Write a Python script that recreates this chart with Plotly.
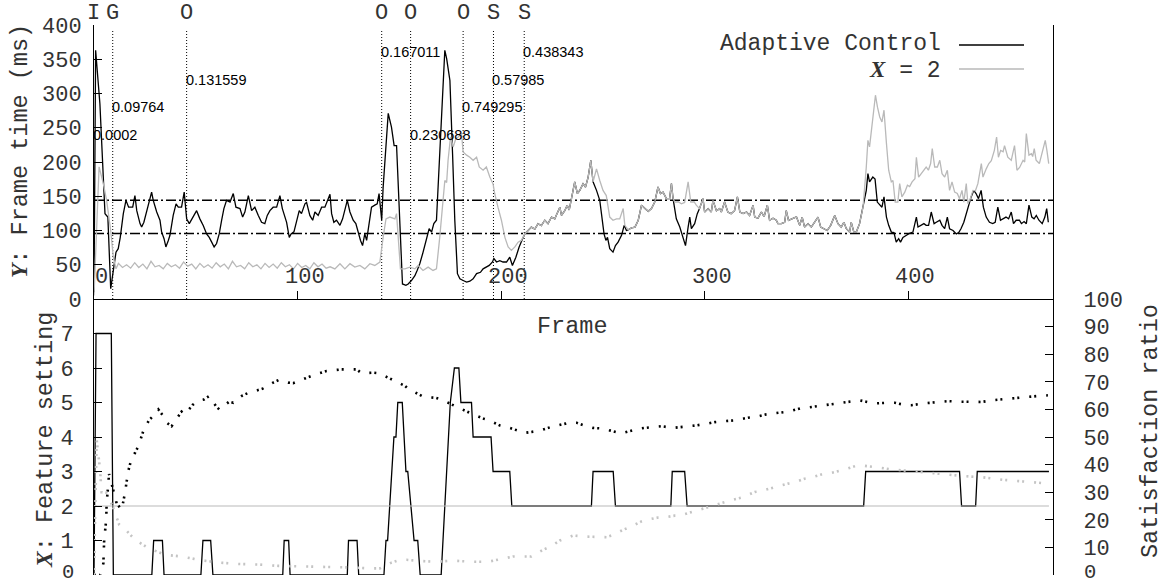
import plotly.graph_objects as go

W, H = 1171, 584
MONO = "Liberation Mono, Courier New, monospace"
SANS = "Liberation Sans, Arial, sans-serif"
INK = "#333333"
GREY = "#b9b9b9"
DOTGREY = "#c4c4c4"

# ---------------- data ----------------
EVENT_FRAMES = [0, 9.2, 45.5, 141.3, 155.5, 181.3, 196.2, 211.3]
EVENT_CODES = ["I", "G", "O", "O", "O", "O", "S", "S"]
EVENT_VALUES = ["0.0002", "0.09764", "0.131559", "0.167011",
                "0.230688", "0.749295", "0.57985", "0.438343"]
EVENT_LABEL_MS = [240, 280, 320, 360, 240, 280, 320, 360]
EVENT_LINE_TOP_MS = 392

TARGET_HIGH_MS = 144
TARGET_LOW_MS = 95.5
FIXED_SETTING = 2
FRAME_MAX = 471

FRAME_TICKS = [0, 100, 200, 300, 400]
MS_TICKS = [0, 50, 100, 150, 200, 250, 300, 350, 400]
SETTING_TICKS = [0, 1, 2, 3, 4, 5, 6, 7]
RATIO_TICKS = [0, 10, 20, 30, 40, 50, 60, 70, 80, 90, 100]

# Frame time (ms) – Adaptive Control, segments where it differs from X = 2
ADAPT_EARLY = [(0, 10), (0.8, 363), (2.9, 285), (3.8, 232), (4.9, 173), (5.4, 124.6), (6.8, 119.6),
               (8.2, 15), (9.5, 41.7), (10.8, 68.4), (11.9, 73.4), (12.9, 90), (14.4, 124.6),
               (15.7, 144), (17, 134), (19, 134), (20.1, 151), (21, 129), (22.6, 110), (23.4, 105),
               (24.5, 112), (25.9, 127), (27.5, 146.5), (28.3, 156), (29.1, 144), (30.8, 127),
               (32.4, 115), (33.2, 98), (34.4, 88), (35.3, 76), (36.5, 85.5), (37.3, 93), (38.9, 122),
               (40.3, 139), (41.4, 134), (43, 134), (44.3, 156), (45.5, 117), (46.8, 110), (48, 117),
               (49.6, 124.6), (50.4, 129), (52, 117), (53.7, 107), (55.3, 95), (56.6, 90), (57.8, 83),
               (59, 76), (60.2, 81), (61.5, 95), (62.7, 115), (63.8, 132), (65.1, 144), (66.8, 141.5),
               (68.4, 154), (69.7, 134), (71.7, 132), (73, 119.6), (74.1, 127), (75.8, 151), (77.4, 129),
               (79, 134), (80.7, 122), (82.3, 112), (83.9, 110), (85.1, 122), (86.4, 129), (88, 134),
               (89.7, 134), (91.3, 151), (92.5, 132), (94.6, 112), (95.9, 90), (96.8, 95), (98.2, 98),
               (99.5, 115), (100.8, 129), (101.9, 124.6), (103.6, 139), (104.4, 141), (106, 122),
               (107.4, 115), (108.5, 127), (110.1, 122), (111.8, 134), (113.4, 134), (114.5, 141.5),
               (115.9, 153), (116.7, 124.6), (117.8, 112), (119.1, 115), (120.8, 107.5), (122.1, 117),
               (123.2, 129), (124.4, 144), (125.7, 127), (127.3, 115), (128.6, 110), (129.8, 95),
               (130.9, 85.5), (131.9, 78), (133, 95), (133.9, 85.5), (135.2, 115), (136.3, 134),
               (137.9, 137), (139.1, 139), (140, 154), (140.3, 141.5), (141.3, 115), (142, 163),
               (143.4, 222), (144.5, 271), (146.1, 251), (147.4, 224), (148.6, 224), (149.4, 163),
               (150.5, 90), (151.5, 22), (153.2, 20), (154.3, 22), (155.9, 27), (157.6, 34),
               (158.7, 41.7), (160, 51.5), (161.4, 66), (163, 83), (164.6, 102.6), (165.8, 97.7),
               (166.9, 110), (168.2, 115), (169, 163), (170.3, 261), (171.5, 334), (172.3, 363),
               (173.2, 351), (174.8, 319), (176.1, 212), (177.2, 115), (178.5, 37), (179.7, 29.5),
               (181.3, 27), (183, 24.6), (184.6, 26), (186.2, 29.5), (187.9, 37), (189.8, 39),
               (191.1, 44), (192.7, 46.5), (194.1, 49), (195.7, 54), (196.4, 59), (197.7, 54),
               (199.3, 56), (200.9, 54), (202.6, 54), (204.2, 61), (205.5, 49), (207.2, 61),
               (208.8, 76), (210.5, 88), (211.6, 95)]
ADAPT_DIP1 = [(246.8, 158.6), (248.4, 144), (249.5, 119.6), (250.5, 95), (251.4, 85.5), (252.2, 90),
              (253.3, 73.4), (254.9, 68.4), (256.1, 78), (257.4, 83), (259.1, 93), (260.4, 107.5),
              (261.5, 100), (262.4, 101)]
ADAPT_DIP2 = [(286, 117), (287.7, 105), (289.8, 85.5), (290.5, 78), (291.8, 105), (292.6, 119.6),
              (293.4, 102.6), (295, 110), (296.3, 124.6), (297.4, 132)]
ADAPT_LATE = [(379.3, 158.6), (380.1, 183), (380.9, 171), (382.5, 178), (383.6, 175), (384.7, 141.5),
              (385.9, 137), (387, 134), (388, 149), (389.2, 119.6), (390.3, 107.5), (391.6, 97.7),
              (392.9, 97), (394, 83), (395.2, 88), (396.1, 83), (397.3, 90), (398.9, 93), (400.6, 96),
              (402.2, 97.7), (403.9, 119.6), (404.7, 105), (406.3, 107.5), (407.6, 110), (408.7, 107.5),
              (409.9, 107.5), (411.2, 127), (412.6, 110), (413.7, 112), (415.4, 115), (416.5, 107.5),
              (417.8, 102.6), (419.1, 119.6), (420.2, 102.6), (421.9, 100), (423.5, 95), (424.7, 97),
              (425.8, 102.6), (427.2, 112), (428.4, 124.6), (429.5, 134), (430.8, 149), (432.1, 158.6),
              (433.2, 154), (434.4, 146.5), (435.7, 158.6), (436.8, 134), (438.2, 119.6), (439.8, 112),
              (441.4, 110), (442.6, 112), (443.9, 134), (445.2, 115), (446.5, 117), (447.9, 119.6),
              (449.2, 117), (450.5, 127), (451.6, 110), (452.9, 115), (454.5, 115), (455.5, 110),
              (456.8, 113), (457.9, 110), (459.2, 137), (460.6, 119.6), (461.7, 117), (462.8, 122),
              (464.1, 115), (465.7, 110), (467, 119.6), (467.9, 132), (468.7, 112)]

# Frame time (ms) – X = 2, segments where it differs from Adaptive Control
FIXED_EARLY = [(0, 5), (2.5, 193), (4.6, 168), (6.2, 144), (8.2, 100), (9.5, 61), (10.8, 44), (12, 52),
               (14, 46), (16, 50), (18, 45), (20, 53), (22, 46), (24, 51), (26, 44), (28, 55), (30, 47),
               (32, 49), (34, 44), (36, 52), (38, 47), (40, 50), (42, 45), (44, 54), (46, 48), (48, 51),
               (50, 44), (52, 52), (54, 46), (56, 50), (58, 45), (60, 53), (62, 47), (64, 51), (66, 44),
               (68, 55), (70, 47), (72, 49), (74, 44), (76, 53), (78, 47), (80, 50), (82, 44), (84, 52),
               (86, 46), (88, 51), (90, 45), (92, 53), (94, 47), (96, 50), (98, 44), (100, 52), (102, 46),
               (104, 49), (106, 44), (108, 53), (110, 47), (112, 51), (114, 45), (116, 47), (118.3, 44),
               (120.8, 51.5), (123.2, 44), (125.7, 51.5), (128.1, 46.5), (130.6, 49), (133, 44),
               (135.5, 51.5), (137.9, 49), (140.4, 54), (142, 90), (143.4, 117), (145.3, 119.6),
               (147.8, 117), (148.6, 124.6), (149.4, 90), (150.5, 44), (152.7, 44), (155.1, 46.5),
               (157.6, 44), (159.2, 49), (161.6, 41.7), (164.1, 46.5), (166.5, 41.7), (168.2, 44),
               (169.8, 90), (172.3, 173), (173.2, 170), (173.9, 202.5), (175.1, 236.5), (176.4, 222),
               (177.7, 234), (178.9, 236.5), (180.5, 242), (181.3, 214.6), (183, 210), (184.6, 207),
               (186.2, 202.5), (187.9, 207), (189.2, 192.7), (191.1, 188), (192.7, 192.7), (194.4, 178),
               (196, 168), (196.8, 154), (198.4, 134), (200.1, 115), (201.8, 90), (203.4, 76), (205, 71),
               (206.7, 76), (208.3, 83), (209.9, 85.5), (211.6, 95)]
FIXED_BUMP1 = [(246.8, 190), (248.4, 173), (250, 158.6), (251.6, 151), (253.3, 119.6), (254.9, 115),
               (256.6, 117), (258.2, 117), (259.9, 132), (260.7, 107.5), (262.4, 101)]
FIXED_BUMP2 = [(285.2, 141.5), (286.9, 142), (288.5, 139), (290.1, 141), (291.8, 171), (293.1, 141.5),
               (294.7, 142), (295.8, 137), (297.4, 132)]
FIXED_LATE = [(379.3, 192.7), (380.1, 231.7), (380.9, 222), (382.1, 251), (383.8, 297.5), (384.8, 280),
              (385.9, 265.8), (387, 258.5), (388, 275.6), (389.2, 227), (390.3, 188), (391.6, 171),
              (392.4, 173), (393.5, 141.5), (394.8, 141.5), (395.7, 168.4), (396.8, 149), (398.2, 156),
              (399.5, 166), (400.6, 164), (401.8, 171), (403.2, 175.7), (403.9, 207), (405, 178),
              (406.3, 183), (407.6, 188), (408.7, 192.7), (409.8, 188), (410.9, 197.7), (411.7, 219.6),
              (412.9, 192.7), (414.2, 192.7), (415.4, 202.5), (416.5, 183), (417.8, 178), (419.1, 188),
              (420.2, 158.6), (421.4, 171), (422.7, 156), (424, 154), (425.1, 146.5), (426.3, 158.6),
              (427.2, 141.5), (428.4, 168.4), (429.2, 139), (430.4, 146.5), (431.7, 158.6), (432.9, 158),
              (434.1, 168.4), (435.8, 197.7), (436.6, 178), (438.2, 190), (439.5, 197.7), (440.7, 202),
              (442.2, 217), (443.3, 236.5), (444.2, 207), (445.3, 217), (446.5, 215), (447.2, 224),
              (448.8, 207), (450.5, 202.5), (452.1, 224), (453.3, 188), (454.6, 192), (456.3, 202.5),
              (457.1, 200), (457.9, 241.5), (459.2, 210), (460.4, 212), (461, 208), (461.8, 219.6),
              (462.7, 202.5), (464.3, 197.7), (467.2, 231.7), (468, 217), (468.9, 197.7)]

# Frame time (ms) – stretches where both runs coincide
SHARED_A = [(211.6, 95), (213.2, 100), (214.8, 105), (216.5, 102), (218.1, 110), (219.7, 107),
            (221.4, 115), (223, 110), (224.7, 119.6), (226.3, 117), (228, 127), (228.8, 134),
            (229.6, 122), (231.2, 129), (232.4, 137), (233.4, 130), (234.5, 146.5), (236.1, 171),
            (237.4, 154), (238.6, 158.6), (240.2, 168.4), (241.4, 163.5), (242.7, 178), (244, 202.5),
            (245.1, 171)]
SHARED_B = [(262.4, 101), (264, 104), (265.7, 105), (267.3, 115), (268.9, 137), (270.6, 132),
            (272.2, 128), (273.8, 132), (275.4, 141.5), (277, 163.5), (278.2, 154), (279.5, 156),
            (281.1, 146.5), (282.7, 146.5), (283.6, 168.4), (284.4, 146.5)]
SHARED_C = [(297.4, 132), (299.1, 146.5), (299.9, 127), (301.6, 132), (303.2, 127), (304, 144),
            (305.7, 129), (307.3, 132), (308.1, 127), (309.7, 141.5), (311.3, 127), (312.9, 124.6),
            (314.6, 129), (316, 149), (317.2, 127), (318.8, 124.6), (320.5, 127), (322, 122),
            (323.7, 137), (324.5, 119.6), (326.1, 118), (327.8, 127), (329.1, 120), (330.7, 137),
            (331.8, 115), (333.5, 118), (335.1, 115), (335.9, 110), (337.6, 110), (339.2, 112),
            (340, 129), (341.1, 115), (342.4, 117), (344, 119), (345, 120), (346.6, 107.5),
            (347.8, 119.6), (349, 105), (350.7, 110), (352.3, 105), (353.9, 112), (355.6, 119.6),
            (356.9, 105), (358.5, 102.6), (360.1, 100), (361.8, 107.5), (363.8, 122), (365.4, 110),
            (367, 105), (368.3, 112), (369.5, 102.6), (371.1, 97.7), (371.9, 112), (373.2, 97.7),
            (374.4, 97.7), (376, 110), (377.7, 134)]

# Feature setting X chosen by Adaptive Control
SETTING = [(0, 0), (1, 7), (8.5, 7), (9.5, 0), (28.4, 0), (29.3, 1), (33.6, 1), (34.4, 0), (52.5, 0),
           (53.5, 1), (57.3, 1), (58.4, 0), (92.7, 0), (93.4, 1), (95.6, 1), (96.3, 0), (124.4, 0),
           (125, 1), (129.2, 1), (130, 0), (142.4, 0), (143.4, 1), (144.2, 1), (147.3, 4), (148.3, 4),
           (149.2, 5), (151.4, 5), (153.2, 3), (154.1, 3), (157.2, 1), (159, 1), (160.2, 0), (170.5, 0),
           (175, 5), (177, 6), (179.2, 6), (180.2, 5), (185.4, 5), (186.2, 4), (195, 4), (196, 3),
           (204.2, 3), (205.2, 2), (244.3, 2), (245.1, 3), (255, 3), (256.1, 2), (283.3, 2), (284, 3),
           (290.1, 3), (291.3, 2), (378, 2), (379, 3), (425.1, 3), (426.1, 2), (433, 2), (433.8, 3),
           (469, 3)]

# Satisfaction ratio (%)
SAT_ADAPTIVE = [(0, 0), (3, 0), (4.6, 4.2), (5, 12.7), (6, 20), (6.2, 26), (6.8, 31), (7.4, 36.6),
                (11.1, 26), (13.6, 23.6), (15.2, 29.7), (16.8, 37.6), (18.5, 42.4), (20.1, 44.2),
                (21.8, 46.7), (23.4, 50.3), (24.2, 52.1), (27, 56.1), (29.9, 58.2), (31.6, 60), (34, 57.6),
                (35.7, 55.2), (38.1, 53.9), (39.8, 55.8), (43, 59.2), (44.7, 58.2), (48.4, 61.6),
                (50.7, 63), (54, 63.6), (56.5, 64.8), (59.9, 61.2), (61.5, 60), (66.4, 62.8), (68.4, 62.4),
                (73, 65.1), (75.3, 65.8), (80.2, 66.9), (83.1, 67.6), (88, 69.7), (90.8, 70.7),
                (95.4, 69.7), (97.8, 69.5), (103.6, 71.2), (107.7, 72.4), (114.2, 73.9), (121.6, 74.5),
                (129, 74.5), (131.4, 73.1), (137.1, 73.3), (139.6, 73.1), (144.5, 71.5), (147.8, 70.3),
                (152.7, 68.5), (154.3, 67.5), (160, 65.1), (162, 64.5), (167.9, 64.2), (170.7, 63.6),
                (175.6, 61.8), (178, 61), (183.3, 59), (186.2, 58.2), (191.5, 56.6), (194.1, 56),
                (199.3, 54.2), (202.6, 53.7), (207.8, 52.4), (211.6, 51.5), (217.3, 52.1), (219.8, 52.5),
                (225.5, 53.9), (227.9, 54.2), (234.5, 55.4), (236.9, 55.2), (241.8, 53.9), (245.1, 53.3),
                (250.9, 53), (253.3, 52.4), (259, 51.3), (261.5, 51.8), (267.7, 53), (270.5, 53.3),
                (276.2, 53.9), (278.7, 53.9), (284.4, 53.3), (287.7, 53.5), (293.4, 53.9), (295.8, 54.2),
                (301.6, 54.9), (304.9, 55.4), (310.6, 55.8), (315.5, 56.1), (321.2, 57), (324.5, 57.2),
                (330.2, 58.2), (333.2, 58.4), (338.7, 59), (341.7, 59.3), (346.9, 60.4), (349.8, 60.6),
                (356, 61.2), (358.8, 61.5), (364.6, 62.1), (367.5, 62.3), (373.1, 63), (376, 63.3),
                (381.8, 62.4), (384.2, 62.2), (389.9, 62.4), (393.2, 62.4), (398.9, 61.5), (401.4, 61.5),
                (407.9, 62.2), (410.4, 62.4), (416.2, 63), (419.4, 63), (425.1, 62.8), (427.6, 62.8),
                (433.3, 62.8), (435.8, 62.7), (442.3, 63.4), (444.8, 63.6), (451.3, 64), (453.8, 64.2),
                (460.4, 64.6), (462.8, 64.8), (468.5, 65.1)]
SAT_FIXED = [(0, 0), (1.3, 49), (3, 38), (3.7, 30), (5.9, 30), (9.2, 24.8), (12.4, 18.2), (15.5, 16.4),
             (20.3, 12.7), (26.8, 9.7), (35, 7.3), (43.2, 6.7), (51.3, 5.5), (61.1, 4.5), (70.9, 4),
             (80.7, 3.8), (90.5, 3.3), (97.8, 3.2), (107.6, 3), (117.5, 2.8), (127.3, 2.7), (135.5, 2.4),
             (140.4, 2.4), (143.7, 3.6), (146.1, 4.5), (150.2, 5.5), (153.5, 5.5), (160, 5.1),
             (168.2, 4.8), (176.4, 5.2), (185.4, 4.8), (193.6, 4.8), (201, 6), (205.8, 6.7), (210.7, 6.7),
             (214.8, 6.7), (220.5, 9.1), (224.7, 10.5), (228.8, 12.5), (235.3, 14.3), (241.9, 13.9),
             (246.8, 13.7), (251.7, 13.7), (254.9, 14.5), (259.9, 16.4), (263.1, 17.3), (268.8, 19.4),
             (271.3, 20), (277, 20.8), (279.5, 20.8), (285.2, 21.5), (287.7, 21.5), (294.2, 23),
             (297.5, 23.6), (302.4, 24.8), (304.9, 25.5), (310.6, 26.7), (313.9, 27.3), (318.8, 28.2),
             (324.5, 30.1), (327, 30.3), (332.7, 31.5), (335.1, 31.8), (340.8, 33.1), (343.3, 33.3),
             (349, 34.9), (351.5, 35.2), (357.2, 36.4), (359.7, 36.6), (365.4, 37.6), (368.7, 38.2),
             (374.4, 39.6), (377.7, 39.6), (382.6, 39.2), (385.9, 38.8), (392.4, 38.2), (402.2, 37.6),
             (410.4, 37), (418.6, 36.4), (427.6, 35.8), (436.6, 35.4), (446.4, 34.5), (456.2, 33.9),
             (466, 33.3)]

# ---------------- assemble ----------------
adaptive = ADAPT_EARLY + SHARED_A + ADAPT_DIP1 + SHARED_B + ADAPT_DIP2 + SHARED_C + ADAPT_LATE
fixed = FIXED_EARLY + SHARED_A + FIXED_BUMP1 + SHARED_B + FIXED_BUMP2 + SHARED_C + FIXED_LATE


def unzip(pts):
    return [p[0] for p in pts], [p[1] for p in pts]


def px(X):
    return X / W


def py(Y):
    return 1 - Y / H


XDOM = [px(94), px(1053)]
TOP_DOM = [py(299), py(25)]
BOT_DOM = [py(575), py(299)]

fig = go.Figure()

# event markers (vertical dotted)
ev_x, ev_y = [], []
for f in EVENT_FRAMES[1:]:
    ev_x += [f, f, None]
    ev_y += [0, EVENT_LINE_TOP_MS, None]
fig.add_trace(go.Scatter(x=ev_x, y=ev_y, mode="lines", xaxis="x", yaxis="y",
                         line=dict(color="black", width=1, dash="1px,2px"),
                         hoverinfo="skip", showlegend=False))

# target band (dash-dot)
for lvl in (TARGET_HIGH_MS, TARGET_LOW_MS):
    fig.add_trace(go.Scatter(x=[0, FRAME_MAX], y=[lvl, lvl], mode="lines", xaxis="x", yaxis="y",
                             line=dict(color="black", width=1.5, dash="10px,3px,2px,3px"),
                             hoverinfo="skip", showlegend=False))

ax, ay = unzip(adaptive)
fig.add_trace(go.Scatter(x=ax, y=ay, mode="lines", xaxis="x", yaxis="y",
                         line=dict(color="black", width=1.3), showlegend=False))
fx, fy = unzip(fixed)
fig.add_trace(go.Scatter(x=fx, y=fy, mode="lines", xaxis="x", yaxis="y",
                         line=dict(color=GREY, width=1.3), showlegend=False))

# bottom panel
sx, sy = unzip(SETTING)
fig.add_trace(go.Scatter(x=sx, y=sy, mode="lines", xaxis="x2", yaxis="y2",
                         line=dict(color="black", width=1.3), showlegend=False))
fig.add_trace(go.Scatter(x=[0, 469], y=[FIXED_SETTING, FIXED_SETTING], mode="lines",
                         xaxis="x2", yaxis="y2", line=dict(color=GREY, width=1.2),
                         showlegend=False))
rx, ry = unzip(SAT_ADAPTIVE)
fig.add_trace(go.Scatter(x=rx, y=ry, mode="lines", xaxis="x2", yaxis="y3",
                         line=dict(color="black", width=2.6, dash="2px,3px,2px,10px"),
                         showlegend=False))
gx, gy = unzip(SAT_FIXED)
fig.add_trace(go.Scatter(x=gx, y=gy, mode="lines", xaxis="x2", yaxis="y3",
                         line=dict(color=DOTGREY, width=2.6, dash="2px,3px,2px,10px"),
                         showlegend=False))

tickfont = dict(family=MONO, size=22, color=INK)
zerofont = dict(family=MONO, size=20.5, color=INK)
ann = []

# top x tick labels (drawn inside, above the axis)
for t in FRAME_TICKS:
    ann.append(dict(x=t, xref="x", y=py(277), yref="paper", text=str(t), showarrow=False,
                    xshift=7, font=tickfont, xanchor="center", yanchor="middle"))

# bottom "0" labels, nudged up slightly so they stay inside the page
ann.append(dict(x=px(76), y=py(572), xref="paper", yref="paper", text=str(SETTING_TICKS[0]),
                showarrow=False, font=zerofont, xanchor="right", yanchor="middle"))
ann.append(dict(x=px(1082), y=py(572), xref="paper", yref="paper", text=str(RATIO_TICKS[0]),
                showarrow=False, font=zerofont, xanchor="left", yanchor="middle"))

ann.append(dict(x=px(572), y=py(326), xref="paper", yref="paper", text="Frame", showarrow=False,
                font=dict(family=MONO, size=23.5, color=INK), xanchor="center", yanchor="middle"))

ann.append(dict(x=px(20), y=py(151), xref="paper", yref="paper", textangle=-90, showarrow=False,
                text="<span style=\"font-family:'Liberation Serif'\"><b><i>Y</i></b></span>: Frame time (ms)",
                font=dict(family=MONO, size=23.5, color=INK), xanchor="center", yanchor="middle"))
ann.append(dict(x=px(45), y=py(440), xref="paper", yref="paper", textangle=-90, showarrow=False,
                text="<span style=\"font-family:'Liberation Serif'\"><b><i>X</i></b></span>: Feature setting",
                font=dict(family=MONO, size=23.5, color=INK), xanchor="center", yanchor="middle"))
ann.append(dict(x=px(1150), y=py(431), xref="paper", yref="paper", textangle=-90, showarrow=False,
                text="Satisfaction ratio",
                font=dict(family=MONO, size=23.5, color=INK), xanchor="center", yanchor="middle"))

for f, code, val, lvl in zip(EVENT_FRAMES, EVENT_CODES, EVENT_VALUES, EVENT_LABEL_MS):
    ann.append(dict(x=f, xref="x", y=py(14), yref="paper", text=code, showarrow=False,
                    xshift=-1 if code == "I" else 0,
                    font=dict(family=MONO, size=22, color=INK), xanchor="center", yanchor="middle"))
    ann.append(dict(x=f, xref="x", y=lvl, yref="y", text=val, showarrow=False,
                    font=dict(family=SANS, size=14.5, color="black"), xanchor="left",
                    yanchor="middle", xshift=-3))

# legend
ann.append(dict(x=px(943), y=py(44), xref="paper", yref="paper", text="Adaptive Control",
                showarrow=False, font=dict(family=MONO, size=23, color=INK),
                xanchor="right", yanchor="middle"))
ann.append(dict(x=px(943), y=py(70), xref="paper", yref="paper",
                text="<span style=\"font-family:'Liberation Serif'\"><b><i>X</i></b></span> = 2",
                showarrow=False, font=dict(family=MONO, size=23, color=INK),
                xanchor="right", yanchor="middle"))
shapes = [
    dict(type="line", xref="paper", yref="paper", x0=px(959), x1=px(1024), y0=py(45), y1=py(45),
         line=dict(color="black", width=1.5)),
    dict(type="line", xref="paper", yref="paper", x0=px(959), x1=px(1024), y0=py(69), y1=py(69),
         line=dict(color=GREY, width=1.5)),
]

common_y = dict(showgrid=False, zeroline=False, showline=True, linecolor="black", linewidth=1,
                ticks="inside", ticklen=8, tickcolor="black", tickwidth=1, tickfont=tickfont,
                automargin=False, ticklabeloverflow="allow")

fig.update_layout(
    template="none",
    width=W, height=H, autosize=False,
    margin=dict(l=0, r=0, t=0, b=0, pad=0),
    paper_bgcolor="white", plot_bgcolor="white",
    showlegend=False,
    xaxis=dict(domain=XDOM, range=[0, FRAME_MAX], anchor="y", showgrid=False, zeroline=False,
               showline=True, linecolor="black", linewidth=1, ticks="inside", ticklen=8,
               tickcolor="black", tickvals=FRAME_TICKS[1:], showticklabels=False, automargin=False),
    yaxis=dict(domain=TOP_DOM, range=[0, 400], anchor="x", tickvals=MS_TICKS, mirror=True,
               ticklabelstandoff=7, **common_y),
    xaxis2=dict(domain=XDOM, range=[0, FRAME_MAX], anchor="y2", visible=False, automargin=False),
    yaxis2=dict(domain=BOT_DOM, range=[0, 8], anchor="x2", tickvals=SETTING_TICKS,
                ticktext=[""] + [str(v) for v in SETTING_TICKS[1:]],
                ticklabelstandoff=15, **common_y),
    yaxis3=dict(domain=BOT_DOM, range=[0, 100], anchor="x2", overlaying="y2", side="right",
                tickvals=RATIO_TICKS, ticktext=[""] + [str(v) for v in RATIO_TICKS[1:]],
                ticklabelstandoff=25, **common_y),
    annotations=ann,
    shapes=shapes,
)

fig.write_html("out.html")
